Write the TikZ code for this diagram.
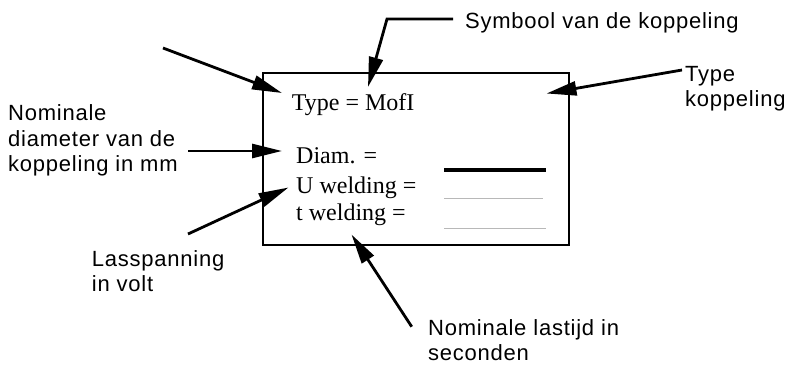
\documentclass[tikz,border=0pt]{standalone}
\usepackage{fontspec}
\setmainfont{Liberation Serif}
\newfontfamily\labfont[LetterSpace=3.5]{Liberation Sans}
\usetikzlibrary{arrows.meta}
\tikzset{
  lab/.style={font=\labfont\fontsize{22}{25}\selectfont, inner sep=0pt, anchor=base west},
  boxtxt/.style={font=\fontsize{24}{27}\selectfont, inner sep=0pt, anchor=base west},
  arr/.style={line width=2.8pt, -{Triangle[length=30pt,width=14pt]}},
  card/.style={draw, line width=2pt}
}
\begin{document}
\begin{tikzpicture}[x=1pt,y=-1pt]
\useasboundingbox (0,0) rectangle (788,365);
% card
\draw[card] (262.7,73) rectangle (568.5,245);
% texts in card
\node[boxtxt] (type) at (291.7,110) {Type = MofI};
\node[boxtxt] (diam) at (296,163.3) {Diam. =};
\node[boxtxt] (uw) at (296,193.3) {U welding =};
\node[boxtxt] (tw) at (296,220.7) {t welding =};
\coordinate (l1a) at (444,170); \coordinate (l1b) at (546,170);
\coordinate (l2a) at (444,198.5); \coordinate (l2b) at (543,198.5);
\coordinate (l3a) at (444,228.5); \coordinate (l3b) at (546,228.5);
\draw[line width=4pt] (l1a) -- (l1b);
\draw[line width=0.8pt, black!28] (l2a) -- (l2b);
\draw[line width=0.8pt, black!28] (l3a) -- (l3b);
% labels
\node[lab] (sym) at (465,28.3) {Symbool van de koppeling};
\node[lab] (tk1) at (685,81) {Type};
\node[lab] (tk2) at (685,106.7) {koppeling};
\node[lab] (nd1) at (8,120.7) {Nominale};
\node[lab] (nd2) at (8,146.7) {diameter van de};
\node[lab] (nd3) at (8,171.5) {koppeling in mm};
\node[lab] (ls1) at (91.7,266.7) {Lasspanning};
\node[lab] (ls2) at (91.7,291.7) {in volt};
\node[lab] (nl1) at (428,335) {Nominale lastijd in};
\node[lab] (nl2) at (428,360) {seconden};
% arrows
\coordinate (a1s) at (163,48); \coordinate (a1t) at (282,93);
\draw[arr] (a1s) -- (a1t);
\coordinate (a2s) at (453,19); \coordinate (a2m) at (387,19); \coordinate (a2t) at (368,87);
\draw[arr] (a2s) -- (a2m) -- (a2t);
\coordinate (a3s) at (682,70); \coordinate (a3t) at (546.5,93.5);
\draw[arr] (a3s) -- (a3t);
\coordinate (a4s) at (188,151); \coordinate (a4t) at (282,151);
\draw[arr] (a4s) -- (a4t);
\coordinate (a5s) at (188,234); \coordinate (a5t) at (288.5,187.5);
\draw[arr] (a5s) -- (a5t);
\coordinate (a6s) at (411.7,326.7); \coordinate (a6t) at (351.5,234.5);
\draw[arr] (a6s) -- (a6t);
\end{tikzpicture}
\end{document}
